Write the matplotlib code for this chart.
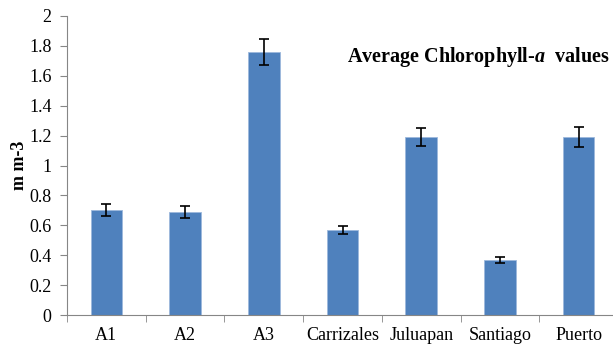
import numpy as np
import matplotlib.pyplot as plt

sites = ['A1', 'A2', 'A3', 'Carrizales', 'Juluapan', 'Santiago', 'Puerto']
chl_mean = [0.70, 0.69, 1.76, 0.57, 1.19, 0.365, 1.19]
chl_err = [0.04, 0.04, 0.085, 0.025, 0.06, 0.02, 0.065]

plt.rcParams['font.family'] = ['Liberation Serif', 'DejaVu Serif']
plt.rcParams['mathtext.fontset'] = 'custom'
plt.rcParams['mathtext.it'] = 'Liberation Serif:italic:bold'
plt.rcParams['mathtext.rm'] = 'Liberation Serif:bold'

fig = plt.figure(figsize=(6.13, 3.45), dpi=100)
ax = fig.add_axes([67 / 613, 30 / 345, 551 / 613, 299 / 345])

x = np.arange(len(sites))
ax.bar(x, chl_mean, width=0.4, color='#4F81BD', edgecolor='#9DB9DC', linewidth=0.6,
       yerr=chl_err, capsize=3.5, error_kw=dict(ecolor='black', elinewidth=1.2, capthick=1.2))

ax.set_xlim(-0.5, len(sites) - 0.5)
ax.set_ylim(0, 2)
ax.set_yticks(np.arange(0, 2.01, 0.2))
ax.set_yticklabels(['0', '0.2', '0.4', '0.6', '0.8', '1', '1.2', '1.4', '1.6', '1.8', '2'])
ax.set_xticks(x)
ax.set_xticklabels(sites)
ax.set_xticks(np.arange(-0.5, len(sites) - 0.4, 1), minor=True)
ax.tick_params(axis='x', which='major', length=0, pad=9, labelsize=13)
ax.tick_params(axis='x', which='minor', length=5, color='#868686', direction='out')
ax.tick_params(axis='y', length=5, color='#868686', labelsize=13, pad=6)

for s in ['top', 'right']:
    ax.spines[s].set_visible(False)
for s in ['left', 'bottom']:
    ax.spines[s].set_color('#868686')

ax.set_ylabel('m m-3', fontweight='bold', fontsize=13, labelpad=1)
ax.text(0.508, 0.862, 'Average Chlorophyll-$\\mathit{a}$  values', transform=ax.transAxes,
        fontweight='bold', fontsize=14.5, ha='left', va='center')

fig.savefig('out.png', dpi=100)
